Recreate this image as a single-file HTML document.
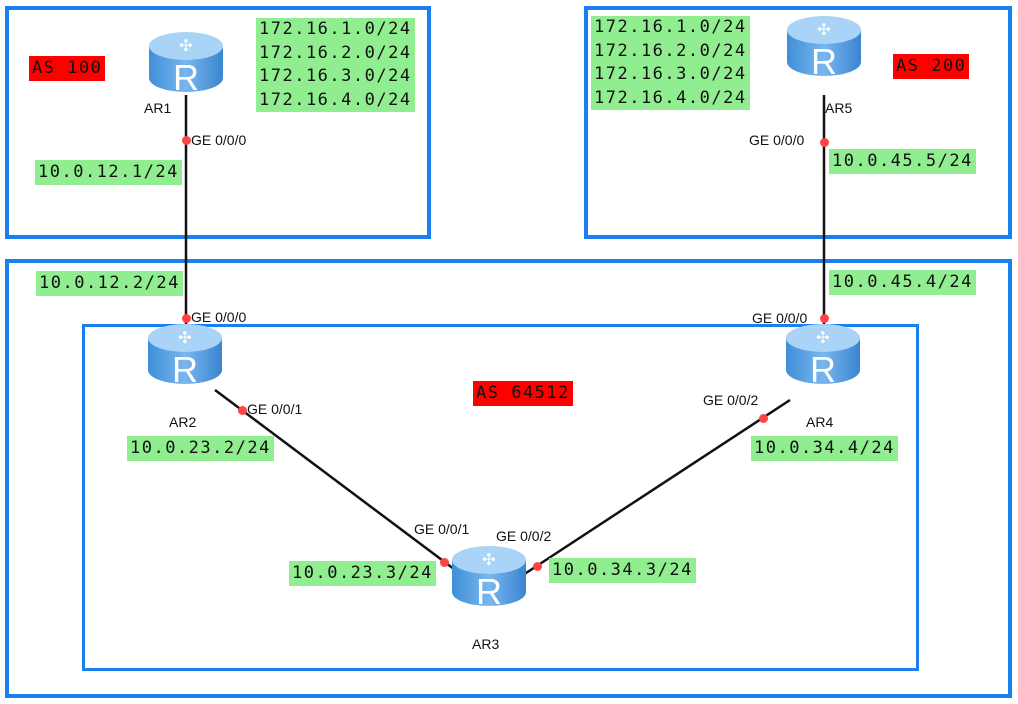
<!DOCTYPE html>
<html><head><style>
body{margin:0;width:1018px;height:704px;background:#fff;position:relative;overflow:hidden;font-family:"DejaVu Sans Mono","Liberation Mono",monospace}
.box{position:absolute;border:4px solid #1a7ff0;box-sizing:border-box}
.g{position:absolute;background:#90ee90;font-size:17px;letter-spacing:1.5px;line-height:25px;padding:0 3px;color:#111;white-space:pre}
.r{position:absolute;background:#f00;font-size:17px;letter-spacing:1.5px;line-height:25px;padding:0 3px;color:#111}
.t{position:absolute;font-family:"Liberation Sans",sans-serif;font-size:14px;color:#111}
.d{position:absolute;width:9px;height:9px;border-radius:50%;background:#f44;margin:-4.5px 0 0 -4.5px}
</style></head><body>
<div class="box" style="left:5px;top:6px;width:426px;height:233px"></div>
<div class="box" style="left:584px;top:6px;width:428px;height:233px"></div>
<div class="box" style="left:5px;top:259px;width:1007px;height:439px"></div>
<div class="box" style="left:82px;top:324px;width:837px;height:347px;border-width:3px"></div>
<svg width="1018" height="704" style="position:absolute;left:0;top:0">
<defs>
<linearGradient id="gr" x1="0" x2="1"><stop offset="0" stop-color="#3f8fd8"/><stop offset=".5" stop-color="#79b6ee"/><stop offset="1" stop-color="#3a85d0"/></linearGradient>
<g id="rt">
<path d="M-37,-18 V14 A37,14 0 0 0 37,14 V-18 Z" fill="url(#gr)"/>
<ellipse cx="0" cy="-18" rx="37" ry="14" fill="#a9d4f7"/>
<text x="0" y="-13" font-size="16" fill="#fff" text-anchor="middle" font-family="DejaVu Sans">✣</text>
<text x="0" y="26" font-size="36" fill="#fff" text-anchor="middle" font-family="Liberation Sans">R</text>
</g>
</defs>
<g stroke="#111" stroke-width="2.5">
<line x1="186" y1="95" x2="186" y2="345"/>
<line x1="824" y1="95" x2="824" y2="345"/>
<line x1="215" y1="390" x2="458" y2="572"/>
<line x1="790" y1="400" x2="523" y2="575"/>
</g>
<use href="#rt" x="186" y="64"/>
<use href="#rt" x="824" y="48"/>
<use href="#rt" x="185" y="356"/>
<use href="#rt" x="823" y="356"/>
<use href="#rt" x="489" y="578"/>
</svg>
<div class="d" style="left:186px;top:140px"></div>
<div class="d" style="left:186px;top:318px"></div>
<div class="d" style="left:242px;top:410px"></div>
<div class="d" style="left:444px;top:562px"></div>
<div class="d" style="left:537px;top:566px"></div>
<div class="d" style="left:763px;top:418px"></div>
<div class="d" style="left:824px;top:142px"></div>
<div class="d" style="left:824px;top:318px"></div>
<div class="r" style="left:29px;top:56px">AS 100</div>
<div class="r" style="left:893px;top:54px">AS 200</div>
<div class="r" style="left:473px;top:381px">AS 64512</div>
<div class="g" style="left:256px;top:18px;line-height:23.5px">172.16.1.0/24
172.16.2.0/24
172.16.3.0/24
172.16.4.0/24</div>
<div class="g" style="left:591px;top:16px;line-height:23.5px">172.16.1.0/24
172.16.2.0/24
172.16.3.0/24
172.16.4.0/24</div>
<div class="g" style="left:35px;top:160px">10.0.12.1/24</div>
<div class="g" style="left:36px;top:271px">10.0.12.2/24</div>
<div class="g" style="left:829px;top:149px">10.0.45.5/24</div>
<div class="g" style="left:829px;top:270px">10.0.45.4/24</div>
<div class="g" style="left:127px;top:436px">10.0.23.2/24</div>
<div class="g" style="left:751px;top:436px">10.0.34.4/24</div>
<div class="g" style="left:289px;top:561px">10.0.23.3/24</div>
<div class="g" style="left:549px;top:558px">10.0.34.3/24</div>
<div class="t" style="left:144px;top:100px">AR1</div>
<div class="t" style="left:825px;top:100px">AR5</div>
<div class="t" style="left:169px;top:414px">AR2</div>
<div class="t" style="left:806px;top:414px">AR4</div>
<div class="t" style="left:472px;top:636px">AR3</div>
<div class="t" style="left:191px;top:132px">GE 0/0/0</div>
<div class="t" style="left:191px;top:309px">GE 0/0/0</div>
<div class="t" style="left:247px;top:401px">GE 0/0/1</div>
<div class="t" style="left:414px;top:521px">GE 0/0/1</div>
<div class="t" style="left:496px;top:528px">GE 0/0/2</div>
<div class="t" style="left:703px;top:392px">GE 0/0/2</div>
<div class="t" style="left:749px;top:132px">GE 0/0/0</div>
<div class="t" style="left:752px;top:310px">GE 0/0/0</div>
</body></html>
